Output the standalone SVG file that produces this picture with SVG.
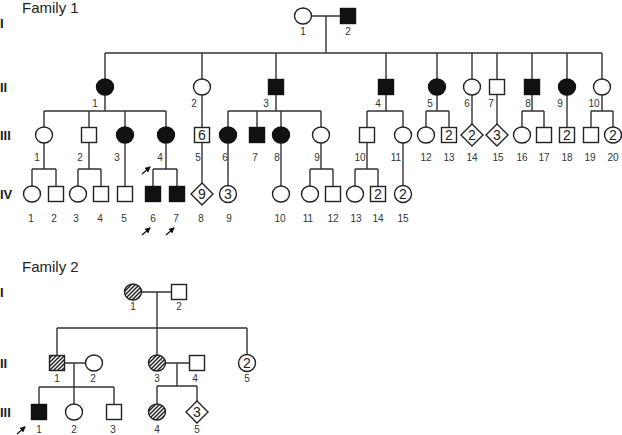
<svg xmlns="http://www.w3.org/2000/svg" width="622" height="435" viewBox="0 0 622 435">
<style>
.s{fill:#fff;stroke:#222;stroke-width:1.4}
.f{fill:#111;stroke:#111;stroke-width:1.4}
.h{fill:url(#hatch);stroke:#222;stroke-width:1.4}
.ln{fill:none;stroke:#333;stroke-width:1.4}
.t{font-family:"Liberation Sans",Arial,sans-serif;font-size:10px;fill:#333;text-anchor:middle}
.n{font-family:"Liberation Sans",Arial,sans-serif;font-size:14px;fill:#222;text-anchor:middle}
.g{font-family:"Liberation Sans",Arial,sans-serif;font-size:13px;font-weight:bold;fill:#222}
.ti{font-family:"Liberation Sans",Arial,sans-serif;font-size:15px;fill:#222}
.ar{stroke:#111;stroke-width:1.2;marker-end:url(#ah)}
</style>
<defs>
<pattern id="hatch" patternUnits="userSpaceOnUse" width="4" height="4">
<rect width="4" height="4" fill="#fff"/>
<path d="M-1,1 l2,-2 M0,4 l4,-4 M3,5 l2,-2" stroke="#222" stroke-width="1.5"/>
</pattern>
<marker id="ah" markerWidth="6" markerHeight="6" refX="5" refY="3" orient="auto" markerUnits="userSpaceOnUse">
<path d="M0,0 L6,3 L0,6 z" fill="#111"/>
</marker>
</defs>
<rect width="622" height="435" fill="#fff"/>

<text class="ti" x="22" y="13">Family 1</text>
<text class="ti" x="22" y="272">Family 2</text>
<g id="gen-labels">
<text class="g" x="0" y="28">I</text>
<text class="g" x="0" y="92">II</text>
<text class="g" x="0" y="140">III</text>
<text class="g" x="0" y="199">IV</text>
<text class="g" x="0" y="297">I</text>
<text class="g" x="0" y="368">II</text>
<text class="g" x="0" y="417">III</text>
</g>

<g id="connectors" class="ln">
<path d="M311.5,16 H340.5 M326,16 V53 M105,53 H602"/>
<path d="M105,53 V79 M202,53 V79 M276,53 V79.5 M386,53 V79.5 M437,53 V79 M472,53 V79 M497,53 V79.5 M532,53 V79.5 M567,53 V79 M602,53 V79"/>
<path d="M105,95 V111 M44,111 H166 M44,111 V127 M89,111 V127.5 M125,111 V127 M166,111 V127"/>
<path d="M202,95 V127.5"/>
<path d="M276,94.5 V111 M228,111 H321 M228,111 V127 M257,111 V127.5 M281,111 V127 M321,111 V127"/>
<path d="M386,94.5 V111 M367,111 H403 M367,111 V127.5 M403,111 V127"/>
<path d="M437,95 V111 M426,111 H449 M426,111 V127 M449,111 V127.5"/>
<path d="M472,95 V124"/>
<path d="M497,94.5 V124"/>
<path d="M532,94.5 V111 M522,111 H544 M522,111 V127 M544,111 V127.5"/>
<path d="M567,95 V127.5"/>
<path d="M602,95 V111 M591,111 H613 M591,111 V127.5 M613,111 V127"/>
<path d="M44,143 V169 M32,169 H56 M32,169 V186 M56,169 V186.5"/>
<path d="M89,142.5 V169 M78,169 H101 M78,169 V186 M101,169 V186.5"/>
<path d="M125,143 V186.5"/>
<path d="M166,143 V169 M153,169 H177 M153,169 V186.5 M177,169 V186.5"/>
<path d="M202,142.5 V183"/>
<path d="M228,143 V185.5"/>
<path d="M281,143 V186"/>
<path d="M321,143 V169 M310,169 H333 M310,169 V186 M333,169 V186.5"/>
<path d="M367,142.5 V169 M355,169 H378 M355,169 V186 M378,169 V186.5"/>
<path d="M403,143 V185.5"/>
<path d="M141.5,292 H171.5 M157,292 V328 M57,328 H247 M57,328 V355.5 M157,328 V355 M247,328 V354.5"/>
<path d="M64.5,363 H86 M74,363 V387 M39,387 H114 M39,387 V404.5 M74,387 V404 M114,387 V404.5"/>
<path d="M165,363 H189.5 M177,363 V386 M157,386 V404 M157,386 H197 M197,386 V401"/>
</g>

<g id="arrows">
<line class="ar" x1="142" y1="174" x2="150" y2="167"/>
<line class="ar" x1="142" y1="235" x2="150" y2="228"/>
<line class="ar" x1="166" y1="235" x2="174" y2="228"/>
<line class="ar" x1="17" y1="434" x2="25" y2="427"/>
</g>

<g id="f1-I-1"><ellipse class="s" cx="303" cy="16" rx="8.5" ry="8"/><text class="t" x="303" y="35">1</text></g>
<g id="f1-I-2"><rect class="f" x="340.5" y="8.5" width="15" height="15"/><text class="t" x="348" y="35">2</text></g>

<g id="f1-II-1"><ellipse class="f" cx="105" cy="87" rx="8.5" ry="8"/><text class="t" x="95" y="107">1</text></g>
<g id="f1-II-2"><ellipse class="s" cx="202" cy="87" rx="8.5" ry="8"/><text class="t" x="194" y="107">2</text></g>
<g id="f1-II-3"><rect class="f" x="268.5" y="79.5" width="15" height="15"/><text class="t" x="266" y="107">3</text></g>
<g id="f1-II-4"><rect class="f" x="378.5" y="79.5" width="15" height="15"/><text class="t" x="378" y="107">4</text></g>
<g id="f1-II-5"><ellipse class="f" cx="437" cy="87" rx="8.5" ry="8"/><text class="t" x="430" y="107">5</text></g>
<g id="f1-II-6"><ellipse class="s" cx="472" cy="87" rx="8.5" ry="8"/><text class="t" x="467" y="107">6</text></g>
<g id="f1-II-7"><rect class="s" x="489.5" y="79.5" width="15" height="15"/><text class="t" x="491" y="107">7</text></g>
<g id="f1-II-8"><rect class="f" x="524.5" y="79.5" width="15" height="15"/><text class="t" x="528" y="107">8</text></g>
<g id="f1-II-9"><ellipse class="f" cx="567" cy="87" rx="8.5" ry="8"/><text class="t" x="560" y="107">9</text></g>
<g id="f1-II-10"><ellipse class="s" cx="602" cy="87" rx="8.5" ry="8"/><text class="t" x="594" y="107">10</text></g>

<g id="f1-III-1"><ellipse class="s" cx="44" cy="135" rx="8.5" ry="8"/><text class="t" x="37" y="161">1</text></g>
<g id="f1-III-2"><rect class="s" x="81.5" y="127.5" width="15" height="15"/><text class="t" x="80" y="161">2</text></g>
<g id="f1-III-3"><ellipse class="f" cx="125" cy="135" rx="8.5" ry="8"/><text class="t" x="117" y="161">3</text></g>
<g id="f1-III-4"><ellipse class="f" cx="166" cy="135" rx="8.5" ry="8"/><text class="t" x="160" y="161">4</text></g>
<g id="f1-III-5"><rect class="s" x="194.5" y="127.5" width="15" height="15"/><text class="n" x="202" y="140">6</text><text class="t" x="198" y="161">5</text></g>
<g id="f1-III-6"><ellipse class="f" cx="228" cy="135" rx="8.5" ry="8"/><text class="t" x="225" y="161">6</text></g>
<g id="f1-III-7"><rect class="f" x="249.5" y="127.5" width="15" height="15"/><text class="t" x="255" y="161">7</text></g>
<g id="f1-III-8"><ellipse class="f" cx="281" cy="135" rx="8.5" ry="8"/><text class="t" x="277" y="161">8</text></g>
<g id="f1-III-9"><ellipse class="s" cx="321" cy="135" rx="8.5" ry="8"/><text class="t" x="317" y="161">9</text></g>
<g id="f1-III-10"><rect class="s" x="359.5" y="127.5" width="15" height="15"/><text class="t" x="360" y="161">10</text></g>
<g id="f1-III-11"><ellipse class="s" cx="403" cy="135" rx="8.5" ry="8"/><text class="t" x="396" y="161">11</text></g>
<g id="f1-III-12"><ellipse class="s" cx="426" cy="135" rx="8.5" ry="8"/><text class="t" x="426" y="161">12</text></g>
<g id="f1-III-13"><rect class="s" x="441.5" y="127.5" width="15" height="15"/><text class="n" x="449" y="140">2</text><text class="t" x="449" y="161">13</text></g>
<g id="f1-III-14"><path class="s" d="M472,124 L483,135 L472,146 L461,135 Z"/><text class="n" x="472" y="140">2</text><text class="t" x="472" y="161">14</text></g>
<g id="f1-III-15"><path class="s" d="M497,124 L508,135 L497,146 L486,135 Z"/><text class="n" x="497" y="140">3</text><text class="t" x="498" y="161">15</text></g>
<g id="f1-III-16"><ellipse class="s" cx="522" cy="135" rx="8.5" ry="8"/><text class="t" x="522" y="161">16</text></g>
<g id="f1-III-17"><rect class="s" x="536.5" y="127.5" width="15" height="15"/><text class="t" x="544" y="161">17</text></g>
<g id="f1-III-18"><rect class="s" x="559.5" y="127.5" width="15" height="15"/><text class="n" x="567" y="140">2</text><text class="t" x="567" y="161">18</text></g>
<g id="f1-III-19"><rect class="s" x="583.5" y="127.5" width="15" height="15"/><text class="t" x="590" y="161">19</text></g>
<g id="f1-III-20"><ellipse class="s" cx="613" cy="135" rx="8.5" ry="8"/><text class="n" x="613" y="140">2</text><text class="t" x="613" y="161">20</text></g>

<g id="f1-IV-1"><ellipse class="s" cx="32" cy="194" rx="8.5" ry="8"/><text class="t" x="31" y="222">1</text></g>
<g id="f1-IV-2"><rect class="s" x="48.5" y="186.5" width="15" height="15"/><text class="t" x="54" y="222">2</text></g>
<g id="f1-IV-3"><ellipse class="s" cx="78" cy="194" rx="8.5" ry="8"/><text class="t" x="76" y="222">3</text></g>
<g id="f1-IV-4"><rect class="s" x="93.5" y="186.5" width="15" height="15"/><text class="t" x="100" y="222">4</text></g>
<g id="f1-IV-5"><rect class="s" x="117.5" y="186.5" width="15" height="15"/><text class="t" x="124" y="222">5</text></g>
<g id="f1-IV-6"><rect class="f" x="145.5" y="186.5" width="15" height="15"/><text class="t" x="153" y="222">6</text></g>
<g id="f1-IV-7"><rect class="f" x="169.5" y="186.5" width="15" height="15"/><text class="t" x="176" y="222">7</text></g>
<g id="f1-IV-8"><path class="s" d="M202,183 L213,194 L202,205 L191,194 Z"/><text class="n" x="202" y="199">9</text><text class="t" x="201" y="222">8</text></g>
<g id="f1-IV-9"><ellipse class="s" cx="228" cy="194" rx="8.5" ry="8.5"/><text class="n" x="228" y="199">3</text><text class="t" x="229" y="222">9</text></g>
<g id="f1-IV-10"><ellipse class="s" cx="281" cy="194" rx="8.5" ry="8"/><text class="t" x="280" y="222">10</text></g>
<g id="f1-IV-11"><ellipse class="s" cx="310" cy="194" rx="8.5" ry="8"/><text class="t" x="308" y="222">11</text></g>
<g id="f1-IV-12"><rect class="s" x="325.5" y="186.5" width="15" height="15"/><text class="t" x="333" y="222">12</text></g>
<g id="f1-IV-13"><ellipse class="s" cx="355" cy="194" rx="8.5" ry="8"/><text class="t" x="356" y="222">13</text></g>
<g id="f1-IV-14"><rect class="s" x="370.5" y="186.5" width="15" height="15"/><text class="n" x="378" y="199">2</text><text class="t" x="378" y="222">14</text></g>
<g id="f1-IV-15"><ellipse class="s" cx="403" cy="194" rx="8.5" ry="8.5"/><text class="n" x="403" y="199">2</text><text class="t" x="403" y="222">15</text></g>

<g id="f2-I-1"><ellipse class="h" cx="133" cy="292" rx="8.5" ry="8"/><text class="t" x="133" y="310">1</text></g>
<g id="f2-I-2"><rect class="s" x="171.5" y="284.5" width="15" height="15"/><text class="t" x="179" y="310">2</text></g>
<g id="f2-II-1"><rect class="h" x="49.5" y="355.5" width="15" height="15"/><text class="t" x="57" y="382">1</text></g>
<g id="f2-II-2"><ellipse class="s" cx="94" cy="363" rx="8.5" ry="8"/><text class="t" x="93" y="382">2</text></g>
<g id="f2-II-3"><ellipse class="h" cx="157" cy="363" rx="8.5" ry="8"/><text class="t" x="157" y="382">3</text></g>
<g id="f2-II-4"><rect class="s" x="189.5" y="355.5" width="15" height="15"/><text class="t" x="195" y="382">4</text></g>
<g id="f2-II-5"><ellipse class="s" cx="247" cy="363" rx="8.5" ry="8.5"/><text class="n" x="247" y="368">2</text><text class="t" x="247" y="382">5</text></g>
<g id="f2-III-1"><rect class="f" x="31.5" y="404.5" width="15" height="15"/><text class="t" x="39" y="433">1</text></g>
<g id="f2-III-2"><ellipse class="s" cx="74" cy="412" rx="8.5" ry="8"/><text class="t" x="74" y="433">2</text></g>
<g id="f2-III-3"><rect class="s" x="106.5" y="404.5" width="15" height="15"/><text class="t" x="113" y="433">3</text></g>
<g id="f2-III-4"><ellipse class="h" cx="157" cy="412" rx="8.5" ry="8"/><text class="t" x="157" y="433">4</text></g>
<g id="f2-III-5"><path class="s" d="M197,401 L208,412 L197,423 L186,412 Z"/><text class="n" x="197" y="417">3</text><text class="t" x="197" y="433">5</text></g>
</svg>
